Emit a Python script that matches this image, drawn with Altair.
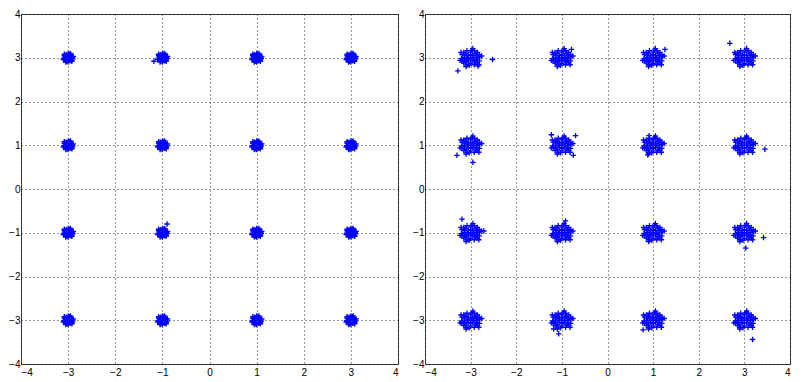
import altair as alt
import pandas as pd

# Ideal 16-QAM constellation levels
levels = [-3, -1, 1, 3]

# Spread of received symbols around each ideal point, left panel: low noise
left_dx = [0, 0.05, -0.05, 0.08, -0.08, 0.03, -0.03, 0.06, -0.06, 0, 0, 0.09, -0.09, 0.04, -0.04, 0.07, -0.07, 0.02, -0.02, 0.1,
           0.11, -0.1, 0.05, -0.05, 0.08, -0.08]
left_dy = [0, 0.03, -0.03, -0.05, 0.05, 0.08, -0.08, 0.06, -0.02, 0.1, -0.1, 0.01, -0.01, -0.07, 0.07, -0.06, 0.04, 0.04, -0.05, -0.02,
           0.03, -0.04, 0.1, -0.1, -0.08, 0.08]
left_out_x = [-1.18, -0.9]
left_out_y = [2.92, -0.8]

# Right panel: higher noise
right_dx = [0, 0.07, -0.07, 0, 0, 0.05, -0.05, 0.05, -0.05,
            0.14, -0.14, 0, 0, 0.1, -0.1, 0.1, -0.1, 0.13, -0.13, 0.13, -0.13,
            0.2, -0.2, 0.03, -0.03, 0.15, -0.15, 0.15, -0.15, 0.08, -0.08, 0.08, -0.08, 0.19, -0.19, 0.19, -0.19,
            0.24, -0.23, 0.05, -0.1, 0.18, -0.21]
right_dy = [0, 0, 0, 0.07, -0.07, 0.05, 0.05, -0.05, -0.05,
            0, 0, 0.13, -0.13, 0.09, 0.09, -0.09, -0.09, 0.05, 0.05, -0.05, -0.05,
            0.02, -0.02, 0.17, -0.17, 0.12, 0.12, -0.12, -0.12, 0.16, 0.16, -0.16, -0.16, 0.07, 0.07, -0.07, -0.07,
            0.04, -0.06, 0.21, -0.2, -0.16, 0.12]
right_out_x = [-2.52, -3.28, -2.84, -0.79, 1.26, 2.68, 2.81, -3.3, -2.95, -1.23, -0.7, -0.75, 0.91, 0.88, 3.45, -2.71, -3.19, -0.92, 3.42, 3.03, -1.18, -1.07, 0.78, 3.18]
right_out_y = [2.96, 2.7, 2.81, 3.19, 3.19, 3.33, 3.08, 0.77, 0.61, 1.24, 1.22, 0.77, 1.22, 0.78, 0.91, -0.96, -0.69, -0.73, -1.11, -1.35, -3.2, -3.31, -3.22, -3.44]

ticks = [-4, -3, -2, -1, 0, 1, 2, 3, 4]


def build(dx, dy, ox, oy):
    rows = []
    for cx in levels:
        for cy in levels:
            for a, b in zip(dx, dy):
                rows.append({"x": cx + a, "y": cy + b})
    for a, b in zip(ox, oy):
        rows.append({"x": a, "y": b})
    return pd.DataFrame(rows)


df_left = build(left_dx, left_dy, left_out_x, left_out_y)
df_right = build(right_dx, right_dy, right_out_x, right_out_y)


def panel(df, w):
    ax = dict(values=ticks, title=None, ticks=False, domain=False, grid=True,
              gridDash=[1, 3], gridColor="#000000", gridOpacity=0.8, gridWidth=1,
              labelFont="Liberation Sans", labelFontSize=10, labelColor="#000000")
    return alt.Chart(df).mark_point(
        shape="M-1,0L1,0M0,-1L0,1", filled=False, color="#0000ff",
        size=30, strokeWidth=1.3, opacity=1
    ).encode(
        x=alt.X("x:Q", scale=alt.Scale(domain=[-4, 4], nice=False, zero=False),
                axis=alt.Axis(labelPadding=3, **ax)),
        y=alt.Y("y:Q", scale=alt.Scale(domain=[-4, 4], nice=False, zero=False),
                axis=alt.Axis(labelPadding=1, **ax)),
    ).properties(width=w, height=350)


chart = alt.hconcat(panel(df_left, 377), panel(df_right, 365), spacing=13).properties(
    padding=0, background="white"
).configure_view(stroke="#444444", strokeWidth=1)

chart.save("out.html", embed_options={"renderer": "svg", "actions": False})
